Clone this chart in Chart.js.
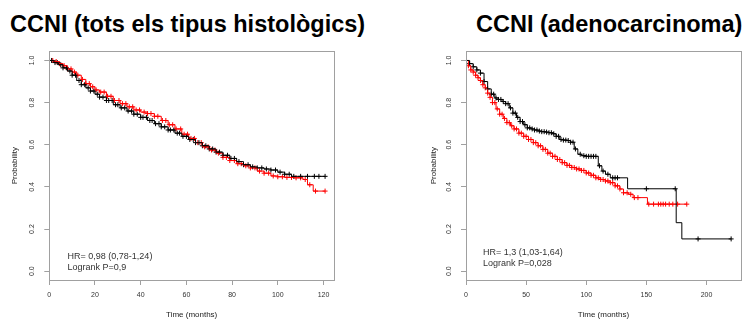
<!DOCTYPE html>
<html>
<head>
<meta charset="utf-8">
<script src="https://cdn.jsdelivr.net/npm/chart.js@4.4.0/dist/chart.umd.min.js"></script>
<style>
  html, body { margin: 0; padding: 0; width: 744px; height: 320px; overflow: hidden; background: #fff; }
  .titulo { position: absolute; top: 13px; font: bold 23.5px "Liberation Sans", Arial, sans-serif; line-height: 1; white-space: nowrap; color: #000; }
  .contenedor { position: absolute; top: 40px; height: 280px; }
</style>
</head>
<body>
<div class="titulo" style="left:10px">CCNI (tots els tipus histològics)</div>
<div class="titulo" style="left:476px">CCNI (adenocarcinoma)</div>
<div class="contenedor" style="left:0;width:372px"><canvas id="graficoTodos"></canvas></div>
<div class="contenedor" style="left:372px;width:374px"><canvas id="graficoAdeno"></canvas></div>

<script>
// Curvas Kaplan-Meier (tiempo en meses, probabilidad)
const tiemposTodosNegro = [0, 2, 4, 6, 8, 10, 12, 14, 16, 18, 20, 22, 25, 28, 31, 34, 37, 40, 43, 46, 49, 52, 55, 58, 61, 64, 67, 70, 73, 76, 79, 82, 85, 88, 91, 94, 97, 100, 103, 106, 120.7];
const supervTodosNegro = [1.0, 0.99, 0.98, 0.965, 0.95, 0.93, 0.905, 0.885, 0.87, 0.855, 0.84, 0.826, 0.81, 0.79, 0.775, 0.76, 0.745, 0.73, 0.715, 0.70, 0.685, 0.67, 0.655, 0.64, 0.625, 0.61, 0.595, 0.58, 0.565, 0.55, 0.535, 0.52, 0.505, 0.495, 0.49, 0.485, 0.48, 0.47, 0.46, 0.45, 0.45];
const censuraTodosNegro = [1, 2.5, 3.5, 5, 6, 7.5, 9, 10, 11.5, 13, 14, 15.5, 17, 18, 19.5, 21, 22, 23.5, 25, 26, 27.5, 29, 30, 31.5, 33, 34.5, 36, 37, 38.5, 40, 41, 42.5, 44, 45, 46.5, 48, 49, 50.5, 52, 53, 54.5, 56, 57, 58.5, 60, 61.5, 63, 64, 65.5, 67, 68.5, 70, 71.5, 73, 74.5, 76, 78, 79.5, 81, 83, 85, 87, 89, 91, 93, 95, 97, 99, 101, 103, 105, 107, 110, 113, 116, 118, 120.7];

const tiemposTodosRojo = [0, 2, 4, 6, 8, 10, 12, 14, 16, 18, 20, 22, 25, 28, 31, 34, 37, 40, 43, 46, 49, 52, 55, 58, 61, 64, 67, 70, 73, 76, 79, 82, 85, 88, 91, 94, 97, 100, 103, 107, 111, 113, 115.5, 120.7];
const supervTodosRojo = [1.0, 0.995, 0.985, 0.975, 0.96, 0.945, 0.93, 0.91, 0.89, 0.875, 0.86, 0.85, 0.83, 0.81, 0.795, 0.78, 0.765, 0.755, 0.748, 0.735, 0.715, 0.695, 0.675, 0.65, 0.63, 0.61, 0.59, 0.575, 0.56, 0.54, 0.525, 0.51, 0.50, 0.49, 0.475, 0.465, 0.452, 0.448, 0.445, 0.443, 0.435, 0.41, 0.38, 0.38];
const censuraTodosRojo = [1.5, 3, 4.5, 6.5, 8, 9.5, 11, 12.5, 14.5, 16, 17.5, 19, 20.5, 22.5, 24, 25.5, 27, 28.5, 30.5, 32, 33.5, 35, 36.5, 38, 39.5, 41.5, 43, 44.5, 46, 47.5, 49.5, 51, 52.5, 54, 55.5, 57.5, 59, 60.5, 62, 63.5, 65, 66.5, 68, 69.5, 71, 72.5, 74, 76, 77.5, 79, 81, 82.5, 84, 86, 88, 90, 92, 94, 96, 98, 100, 102, 104, 106, 108, 110, 112, 114, 116.5, 120.7];

const tiemposAdenoNegro = [0, 3, 6, 9, 12, 15, 18, 21, 24, 27, 30, 33, 36, 39, 42, 45, 48, 51, 54, 57, 60, 63, 66, 69, 72, 75, 78, 81, 84, 87, 90, 93, 96, 100, 110, 113, 116, 120, 134.4, 174.8, 179.5, 220.5];
const supervAdenoNegro = [1.0, 0.985, 0.97, 0.955, 0.94, 0.9, 0.865, 0.84, 0.822, 0.815, 0.805, 0.795, 0.775, 0.75, 0.73, 0.71, 0.695, 0.68, 0.675, 0.67, 0.665, 0.662, 0.66, 0.657, 0.652, 0.64, 0.625, 0.622, 0.62, 0.612, 0.58, 0.555, 0.548, 0.545, 0.5, 0.475, 0.46, 0.443, 0.391, 0.23, 0.153, 0.153];
const censuraAdenoNegro = [3, 6, 9, 12, 15, 18, 21, 23, 25, 27, 29, 31, 33, 35, 37, 39, 41, 43, 45, 47, 49, 51, 53, 55, 57, 59, 61, 63, 65, 67, 69, 71, 73, 75, 77, 79, 81, 83, 85, 87, 89, 91, 95, 98, 100, 102, 104, 106, 108, 111, 114, 118, 122, 124, 126, 150, 174, 193, 220.5];

const tiemposAdenoRojo = [0, 2, 4, 6, 8, 10, 12, 14, 16, 18, 20, 22, 25, 28, 31, 34, 37, 40, 44, 48, 52, 56, 60, 64, 68, 72, 76, 80, 84, 88, 92, 96, 100, 104, 108, 112, 116, 120, 124, 128, 131, 135, 139, 150.9, 183.6];
const supervAdenoRojo = [1.0, 0.975, 0.955, 0.945, 0.93, 0.918, 0.905, 0.885, 0.87, 0.845, 0.825, 0.80, 0.77, 0.745, 0.725, 0.705, 0.69, 0.675, 0.655, 0.64, 0.625, 0.61, 0.595, 0.578, 0.56, 0.545, 0.53, 0.515, 0.502, 0.492, 0.485, 0.478, 0.466, 0.455, 0.443, 0.435, 0.428, 0.42, 0.405, 0.39, 0.372, 0.365, 0.349, 0.318, 0.318];
const censuraAdenoRojo = [2, 4, 6, 8, 10, 12, 14, 16, 18, 20, 22, 24, 26, 28, 30, 32, 34, 36, 38, 40, 42, 44, 46, 48, 50, 52, 54, 56, 58, 60, 62, 64, 66, 68, 70, 72, 74, 76, 78, 80, 82, 84, 86, 88, 90, 92, 94, 96, 98, 100, 102, 104, 106, 108, 110, 112, 114, 116, 118, 120, 122, 124, 126, 128, 131, 134, 137, 140, 143, 152, 156, 160, 162, 164, 166, 169, 172, 176, 183.6];

const ticksTiempoTodos = [0, 20, 40, 60, 80, 100, 120];
const ticksTiempoAdeno = [0, 50, 100, 150, 200];
const ticksProbabilidad = [0, 0.2, 0.4, 0.6, 0.8, 1.0];

const textoTodos = ['HR= 0,98 (0,78-1,24)', 'Logrank P=0,9'];
const textoAdeno = ['HR= 1,3 (1,03-1,64)', 'Logrank P=0,028'];

const fuente = '"Liberation Sans", Arial, sans-serif';
const grisMarco = '#a0a0a0';


// valor de la curva escalonada en el tiempo t
function valorEnTiempo(tiempos, valores, t) {
    let v = valores[0];
    for (let i = 0; i < tiempos.length; i++) {
        if (tiempos[i] <= t) v = valores[i];
    }
    return v;
}

function curva(tiempos, valores, color) {
    return {
        data: tiempos.map((t, i) => ({ x: t, y: valores[i] })),
        borderColor: color,
        borderWidth: 1,
        stepped: true,
        pointRadius: 0,
        fill: false
    };
}

function censuras(tiemposCensura, tiempos, valores, color) {
    return {
        data: tiemposCensura.map(t => ({ x: t, y: valorEnTiempo(tiempos, valores, t) })),
        showLine: false,
        pointStyle: 'cross',
        pointRadius: 2.5,
        borderColor: color,
        borderWidth: 1
    };
}

// Marco gris y texto HR / Logrank
const pluginMarco = {
    id: 'marco',
    afterDatasetsDraw(chart, args, opts) {
        const { ctx, chartArea: a, scales } = chart;
        ctx.save();
        ctx.strokeStyle = grisMarco;
        ctx.lineWidth = 1;
        ctx.strokeRect(Math.round(a.left) + 0.5, Math.round(a.top) + 0.5, Math.round(a.width), Math.round(a.height));

        ctx.fillStyle = '#333';
        ctx.font = '9px ' + fuente;
        ctx.textAlign = 'left';
        ctx.textBaseline = 'alphabetic';
        const x = scales.x.getPixelForValue(opts.posX);
        const y = scales.y.getPixelForValue(opts.posY);
        opts.lineas.forEach((linea, i) => {
            ctx.fillText(linea, x, y + i * 11);
        });
        ctx.restore();
    }
};

function crearGrafico(id, conjuntos, maxTiempo, ticksTiempo, padding, padTitulo, texto) {
    const ctx = document.getElementById(id).getContext('2d');
    return new Chart(ctx, {
        type: 'line',
        data: { datasets: conjuntos },
        options: {
            responsive: true,
            maintainAspectRatio: false,
            animation: false,
            events: [],
            layout: { padding: padding },
            plugins: {
                legend: { display: false },
                tooltip: { enabled: false },
                marco: texto
            },
            scales: {
                x: {
                    type: 'linear',
                    min: 0,
                    max: maxTiempo,
                    afterBuildTicks: s => { s.ticks = ticksTiempo.map(v => ({ value: v })); },
                    afterFit: s => { s.height = 40; },
                    grid: { drawOnChartArea: false, drawTicks: true, tickLength: 5, color: grisMarco },
                    border: { color: grisMarco },
                    ticks: { font: { size: 7, family: fuente }, color: '#333', padding: 6, maxRotation: 0, autoSkip: false, callback: v => v },
                    title: { display: true, text: 'Time (months)', font: { size: 8, family: fuente }, color: '#222', padding: 0 }
                },
                y: {
                    type: 'linear',
                    min: -0.042,
                    max: 1.044,
                    afterBuildTicks: s => { s.ticks = ticksProbabilidad.map(v => ({ value: v })); },
                    afterFit: s => { s.width = 49.3; },
                    grid: { drawOnChartArea: false, drawTicks: true, tickLength: 5, color: grisMarco },
                    border: { color: grisMarco },
                    ticks: { font: { size: 7, family: fuente }, color: '#333', padding: 7, minRotation: 90, maxRotation: 90, crossAlign: 'center', autoSkip: false, callback: v => v.toFixed(1) },
                    title: { display: true, text: 'Probability', font: { size: 8, family: fuente }, color: '#222', padding: { top: padTitulo, bottom: 0 } }
                }
            }
        },
        plugins: [pluginMarco]
    });
}

crearGrafico('graficoTodos', [
    curva(tiemposTodosNegro, supervTodosNegro, '#000'),
    curva(tiemposTodosRojo, supervTodosRojo, '#ff0000'),
    censuras(censuraTodosNegro, tiemposTodosNegro, supervTodosNegro, '#000'),
    censuras(censuraTodosRojo, tiemposTodosRojo, supervTodosRojo, '#ff0000')
], 124.6, ticksTiempoTodos, { left: 0, top: 9, right: 38, bottom: 0 }, 10, { posX: 8, posY: 0.056, lineas: textoTodos });

crearGrafico('graficoAdeno', [
    curva(tiemposAdenoNegro, supervAdenoNegro, '#000'),
    curva(tiemposAdenoRojo, supervAdenoRojo, '#ff0000'),
    censuras(censuraAdenoNegro, tiemposAdenoNegro, supervAdenoNegro, '#000'),
    censuras(censuraAdenoRojo, tiemposAdenoRojo, supervAdenoRojo, '#ff0000')
], 228.7, ticksTiempoAdeno, { left: 44.7, top: 9, right: 1, bottom: 0 }, 12, { posX: 14.2, posY: 0.075, lineas: textoAdeno });
</script>
</body>
</html>
